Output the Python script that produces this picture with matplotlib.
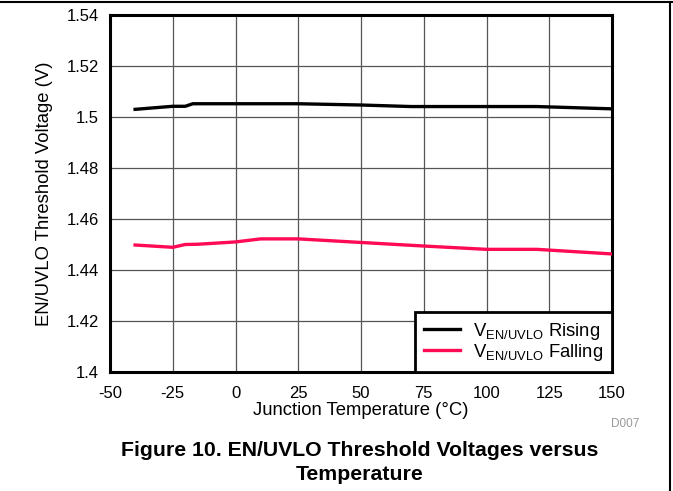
import matplotlib
matplotlib.use("Agg")
import matplotlib.pyplot as plt
from matplotlib.lines import Line2D

plt.rcParams['font.family'] = ['Liberation Sans', 'DejaVu Sans']
plt.rcParams['mathtext.fontset'] = 'custom'
plt.rcParams['mathtext.rm'] = 'Liberation Sans'
plt.rcParams['mathtext.it'] = 'Liberation Sans'

rising_temp = [-40, -25, -20, -17, 0, 25, 50, 70, 100, 120, 150]
rising_v = [1.5030, 1.5042, 1.5042, 1.5052, 1.5052, 1.5052, 1.5047, 1.5041, 1.5041, 1.5041, 1.5032]
falling_temp = [-40, -25, -20, -15, 0, 10, 25, 50, 75, 100, 120, 150]
falling_v = [1.4498, 1.4489, 1.4500, 1.4501, 1.4510, 1.4522, 1.4522, 1.4508, 1.4494, 1.4481, 1.4481, 1.4463]
x_ticks = [-50, -25, 0, 25, 50, 75, 100, 125, 150]
y_ticks = [1.40, 1.42, 1.44, 1.46, 1.48, 1.50, 1.52, 1.54]
y_tick_labels = ["1.4", "1.42", "1.44", "1.46", "1.48", "1.5", "1.52", "1.54"]

fig = plt.figure(figsize=(6.73, 4.91), dpi=100)
ax = fig.add_axes([110/673, 1-372/491, (612-110)/673, (372-15)/491])

ax.plot(rising_temp, rising_v, color='black', lw=2.4, label=r'$\mathregular{V_{EN/UVLO}}$ Rising', zorder=3)
ax.plot(falling_temp, falling_v, color='#FF0A54', lw=2.4, label=r'$\mathregular{V_{EN/UVLO}}$ Falling', zorder=3)

ax.set_xlim(-50, 150)
ax.set_ylim(1.40, 1.54)
ax.set_xticks(x_ticks)
ax.set_xticklabels([str(t) for t in x_ticks])
ax.set_yticks(y_ticks)
ax.set_yticklabels(y_tick_labels)
ax.tick_params(length=0, labelsize=12, colors='black')
ax.tick_params(axis='x', pad=10)
ax.tick_params(axis='y', pad=8)
ax.grid(True, color='#555555', lw=0.9)
ax.set_axisbelow(True)
for s in ax.spines.values():
    s.set_linewidth(2.2)
    s.set_color('black')

ax.set_xlabel('Junction Temperature (°C)', fontsize=13.3, labelpad=1)
ax.set_ylabel('EN/UVLO Threshold Voltage (V)', fontsize=13.3, labelpad=10)

leg = ax.legend(loc='lower right', fontsize=13.3, frameon=True, fancybox=False,
                borderaxespad=0, handlelength=1.9, handletextpad=0.7,
                labelspacing=0.0, borderpad=0.5)
leg.get_frame().set_edgecolor('black')
leg.get_frame().set_linewidth(2.0)
leg.get_frame().set_alpha(1)

fig.text(625/673, 1-424/491, 'D007', fontsize=8.5, color='#999999', ha='center', va='center')
fig.text(360/673, 1-451/491, 'Figure 10. EN/UVLO Threshold Voltages versus', fontsize=15.3,
         fontweight='bold', ha='center', va='center')
fig.text(360/673, 1-475/491, 'Temperature', fontsize=15.3, fontweight='bold', ha='center', va='center')

fig.add_artist(Line2D([0, 1], [1-2/491, 1-2/491], transform=fig.transFigure, color='black', lw=1.5))
fig.add_artist(Line2D([1-3/673, 1-3/673], [0, 1-2/491], transform=fig.transFigure, color='black', lw=1.5))

fig.savefig('out.png', dpi=100)
